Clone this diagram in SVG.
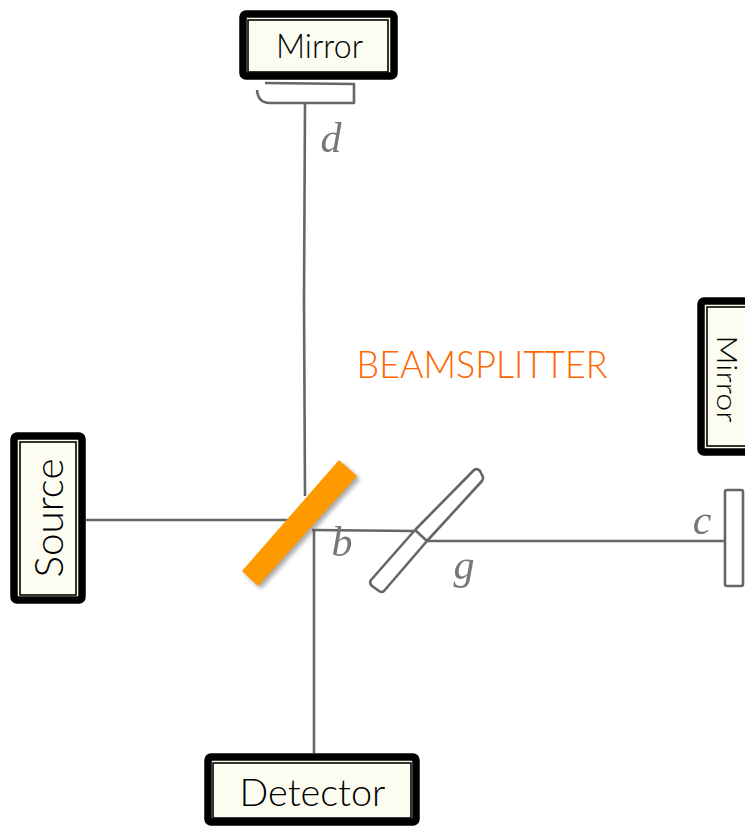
<svg xmlns="http://www.w3.org/2000/svg" width="745" height="826" viewBox="0 0 745 826">
<style>
.outer{fill:#fcfdf0;stroke:#000;stroke-width:7.5;stroke-linejoin:round}
.inner{fill:#fcfdf0;stroke:#000;stroke-width:1.6}
.lab{font-family:"Lato","Noto Sans",sans-serif;font-weight:300;font-size:34px;fill:#000;text-anchor:middle}
.ink{fill:none;stroke:#666;stroke-width:2.6;stroke-linejoin:round}
.let{font-family:"Liberation Serif",serif;font-style:italic;font-size:42px;fill:#777;text-anchor:middle}
</style>
<defs>
<filter id="soft" x="-5%" y="-5%" width="110%" height="110%"><feGaussianBlur stdDeviation="0.7"/></filter>
<filter id="shadow" x="-20%" y="-20%" width="140%" height="140%"><feGaussianBlur stdDeviation="2"/></filter>
</defs>
<rect width="745" height="826" fill="#fff"/>
<g id="connectors" filter="url(#soft)">
<path class="ink" d="M305 104L304 300L305 496"/>
<path class="ink" d="M86 520L290 520"/>
<path class="ink" d="M312 530L415 531"/>
<path class="ink" d="M427 541L725 541"/>
<path class="ink" d="M314 530L314 753"/>
</g>
<g id="optics" filter="url(#soft)">
<path class="ink" d="M265 83L354 84L354 103L270 103Q258 103 257 90"/>
<rect class="ink" x="725" y="490" width="18" height="96" rx="2"/>
<path class="ink" d="M415 530L474 470Q477 468 480 471L482 475Q484 478 482 481L427 541M415 530L427 541M415 530L371 580Q369 583 372 586L379 591Q382 593 384 591L427 541"/>
<text class="let" x="331" y="152">d</text>
<text class="let" x="342" y="556">b</text>
<text class="let" x="464" y="579">g</text>
<text class="let" x="702" y="534">c</text>
</g>
<g id="beamsplitter">
<polygon points="342,463 360,479 261,589 245,574" fill="#555" opacity="0.5" filter="url(#shadow)"/>
<polygon points="339,460 357,476 258,586 242,571" fill="#ff9900"/>
</g>
<text id="beamsplitter-label" x="482" y="378" font-family="Lato, Noto Sans, sans-serif" font-weight="300" font-size="37" fill="#ff6600" text-anchor="middle" textLength="251" lengthAdjust="spacingAndGlyphs">BEAMSPLITTER</text>
<g id="mirror-top">
<rect class="outer" x="243" y="14" width="151" height="62" rx="3"/>
<rect class="inner" x="248" y="20" width="140" height="52"/>
<text class="lab" x="319.500" y="58" textLength="87" lengthAdjust="spacingAndGlyphs">Mirror</text>
</g>
<g id="mirror-right">
<rect class="outer" x="701" y="301" width="80" height="151" rx="3"/>
<rect class="inner" x="707" y="307" width="70" height="139"/>
<text class="lab" transform="translate(717 379) rotate(90)" x="0" y="0" style="font-size:27px" textLength="87" lengthAdjust="spacingAndGlyphs">Mirror</text>
</g>
<g id="source">
<rect class="outer" x="14" y="436" width="68" height="164" rx="3"/>
<rect class="inner" x="20" y="442" width="56" height="153"/>
<text class="lab" transform="translate(63 518) rotate(-90)" x="0" y="0" style="font-size:40px" textLength="119" lengthAdjust="spacingAndGlyphs">Source</text>
</g>
<g id="detector">
<rect class="outer" x="208" y="757" width="208" height="65" rx="3"/>
<rect class="inner" x="213" y="763" width="198" height="55"/>
<text class="lab" x="312.500" y="806" style="font-size:38px" textLength="146" lengthAdjust="spacingAndGlyphs">Detector</text>
</g>
</svg>
